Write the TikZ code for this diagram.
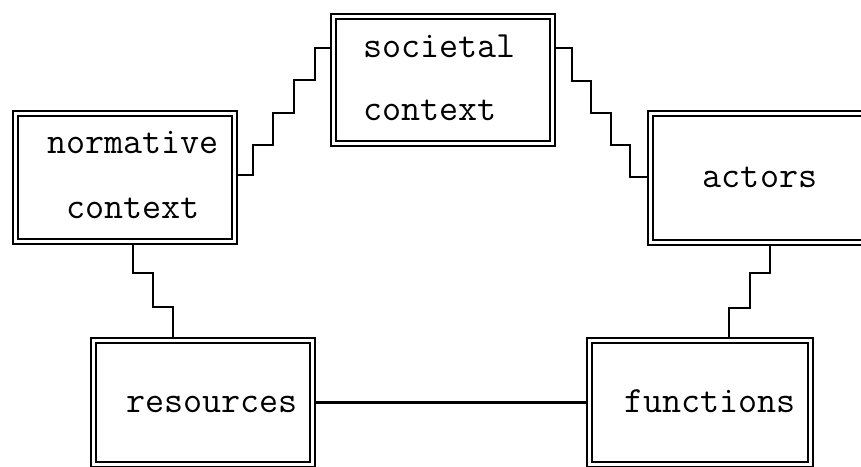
\documentclass[tikz,border=0pt]{standalone}
\usepackage{fontspec}
\begin{document}
\begin{tikzpicture}[x=1pt,y=-1pt,
  box/.style={draw, double, line width=2.3pt, double distance=2.8pt,
              outer sep=3.7pt, inner sep=0pt},
  link/.style={line width=2.5pt, line join=miter},
  lbl/.style={font=\ttfamily\fontsize{37}{63}\selectfont, inner sep=0pt, anchor=base}]
\useasboundingbox (0,0) rectangle (861,466);
\clip (0,0) rectangle (861,466);

% double-framed boxes
\node[box, minimum width=218.6pt, minimum height=126.6pt] (societal)  at (443,80)    {};
\node[box, minimum width=218.6pt, minimum height=127.6pt] (normative) at (125,177.5) {};
\node[box, minimum width=220.6pt, minimum height=128.6pt] (actors)    at (761,178)   {};
\node[box, minimum width=218.6pt, minimum height=123.6pt] (resources) at (203,402.5) {};
\node[box, minimum width=220.6pt, minimum height=123.6pt] (functions) at (700,402.5) {};

% labels (base anchor of a two-line label = baseline of its last line)
\node[lbl, anchor=base west, align=left] (societal-text) at (363,120) {societal\\context};
\node[lbl, align=center] (normative-text) at (133,218) {normative\\[2pt]context};
\node[lbl] (actors-text)    at (760,187) {actors};
\node[lbl] (resources-text) at (212,412) {resources};
\node[lbl] (functions-text) at (710,412) {functions};

% stepped connectors
\draw[link] (societal.west |- 0,48) -| (315,80) -| (294,113) -| (273,145) -| (253,175)
            -- (normative.east |- 0,175);
\draw[link] (societal.east |- 0,48) -| (572,81) -| (591,113) -| (611,145) -| (630,177)
            -- (actors.west |- 0,177);
\draw[link] (normative.south -| 133,0) |- (153,273) |- (173,307) -- (resources.north -| 173,0);
\draw[link] (actors.south -| 770,0) |- (750,273) |- (729,308) -- (functions.north -| 729,0);
\draw[link] (resources.east) -- (functions.west);
\end{tikzpicture}
\end{document}
